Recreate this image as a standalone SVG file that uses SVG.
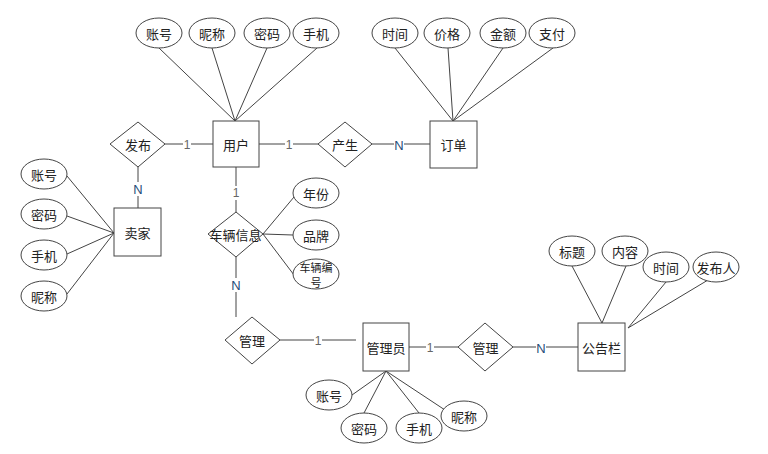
<svg xmlns="http://www.w3.org/2000/svg" width="768" height="454" viewBox="0 0 768 454">
<defs>
<style>
.shape{fill:#fff;stroke:#444;stroke-width:1}
.line{stroke:#444;stroke-width:1;fill:none}
text{font-family:"Noto Sans CJK SC","Liberation Sans",sans-serif;font-size:13px;fill:#222;text-anchor:middle;dominant-baseline:central}
.small{font-size:11px}
.one{font-family:"Liberation Sans",sans-serif;font-size:12px;fill:#666}
.n{font-family:"Liberation Sans",sans-serif;font-size:13px;fill:#1f4e79}
.bg{fill:#fff}
</style>
</defs>
<rect width="768" height="454" fill="#fff"/>
<g id="connectors">
<path class="line" d="M159,48 L235,121 M212,48 L235,121 M267,48 L235,121 M317,48 L235,121"/>
<path class="line" d="M395,48 L453,121 M448,48 L453,121 M503,48 L453,121 M553,48 L453,121"/>
<path class="line" d="M67,176 L114,233 M67,216 L114,233 M67,254 L114,233 M67,294 L114,233"/>
<path class="line" d="M263,234 L294,197 M263,234 L293,235 M263,234 L294,275"/>
<path class="line" d="M386,371 L352,395 M386,371 L364,413 M386,371 L419,413 M386,371 L445,410"/>
<path class="line" d="M572,266 L602,323 M626,266 L602,323 M666,282 L628,328 M708,280 L628,328"/>
<path class="line" d="M165,144 L213,144 M259,144 L318,144 M372,144 L430,144 M138,167 L138,208 M236,167 L236,212 M236,257 L236,317 M280,340 L356,340 M409,347 L458,347 M513,347 L578,347"/>
<rect class="bg" x="183" y="137" width="8" height="14"/><text class="one" x="187" y="145">1</text>
<rect class="bg" x="285" y="137" width="8" height="14"/><text class="one" x="289" y="145">1</text>
<rect class="bg" x="394" y="137" width="10" height="14"/><text class="n" x="399" y="145">N</text>
<rect class="bg" x="132" y="182" width="12" height="14"/><text class="n" x="138" y="189">N</text>
<rect class="bg" x="231" y="186" width="10" height="14"/><text class="one" x="236" y="193">1</text>
<rect class="bg" x="230" y="278" width="12" height="14"/><text class="n" x="236" y="285">N</text>
<rect class="bg" x="314" y="333" width="8" height="14"/><text class="one" x="318" y="341">1</text>
<rect class="bg" x="426" y="340" width="8" height="14"/><text class="one" x="430" y="348">1</text>
<rect class="bg" x="536" y="340" width="10" height="14"/><text class="n" x="541" y="348">N</text>
</g>
<g id="user"><rect class="shape" x="213" y="121" width="46" height="46"/><text x="236" y="144">用户</text></g>
<g id="order"><rect class="shape" x="430" y="121" width="47" height="47"/><text x="453.5" y="144.5">订单</text></g>
<g id="seller"><rect class="shape" x="114" y="208" width="47" height="48"/><text x="137.5" y="232">卖家</text></g>
<g id="admin"><rect class="shape" x="363" y="323" width="46" height="48"/><text x="386" y="347">管理员</text></g>
<g id="notice"><rect class="shape" x="578" y="323" width="47" height="48"/><text x="601.5" y="347">公告栏</text></g>
<g id="publish"><polygon class="shape" points="110,144 138,122 165,144 138,167"/><text x="138" y="144">发布</text></g>
<g id="produce"><polygon class="shape" points="318,144 345,122 372,144 345,167"/><text x="345" y="144">产生</text></g>
<g id="vehicle"><polygon class="shape" points="208,234 236,212 263,234 236,257"/><text x="235.5" y="234">车辆信息</text></g>
<g id="manage1"><polygon class="shape" points="225,340 252,317 280,340 252,364"/><text x="252" y="340">管理</text></g>
<g id="manage2"><polygon class="shape" points="458,347 485,323 513,347 485,371"/><text x="485.5" y="347">管理</text></g>
<g id="user-account"><ellipse class="shape" cx="159" cy="33" rx="23" ry="15"/><text x="159" y="33">账号</text></g>
<g id="user-nick"><ellipse class="shape" cx="212" cy="33" rx="23" ry="15"/><text x="212" y="33">昵称</text></g>
<g id="user-pwd"><ellipse class="shape" cx="267" cy="33" rx="23" ry="15"/><text x="267" y="33">密码</text></g>
<g id="user-phone"><ellipse class="shape" cx="316" cy="33" rx="23" ry="15"/><text x="316" y="33">手机</text></g>
<g id="order-time"><ellipse class="shape" cx="395" cy="33" rx="23" ry="15"/><text x="395" y="33">时间</text></g>
<g id="order-price"><ellipse class="shape" cx="447" cy="33" rx="23" ry="15"/><text x="447" y="33">价格</text></g>
<g id="order-amount"><ellipse class="shape" cx="503" cy="33" rx="23" ry="15"/><text x="503" y="33">金额</text></g>
<g id="order-pay"><ellipse class="shape" cx="552" cy="33" rx="23" ry="15"/><text x="552" y="33">支付</text></g>
<g id="seller-account"><ellipse class="shape" cx="44" cy="174" rx="23" ry="15"/><text x="44" y="174">账号</text></g>
<g id="seller-pwd"><ellipse class="shape" cx="44" cy="214" rx="23" ry="15"/><text x="44" y="214">密码</text></g>
<g id="seller-phone"><ellipse class="shape" cx="44" cy="255" rx="23" ry="15"/><text x="44" y="255">手机</text></g>
<g id="seller-nick"><ellipse class="shape" cx="44" cy="296" rx="23" ry="15"/><text x="44" y="296">昵称</text></g>
<g id="vehicle-year"><ellipse class="shape" cx="316" cy="193" rx="23" ry="15"/><text x="316" y="193">年份</text></g>
<g id="vehicle-brand"><ellipse class="shape" cx="316" cy="235" rx="23" ry="15"/><text x="316" y="235">品牌</text></g>
<g id="vehicle-no"><ellipse class="shape" cx="316" cy="274" rx="23" ry="15"/><text class="small" x="316" y="266.5">车辆编</text><text class="small" x="316" y="281.5">号</text></g>
<g id="admin-account"><ellipse class="shape" cx="329" cy="395" rx="23" ry="15"/><text x="329" y="395">账号</text></g>
<g id="admin-pwd"><ellipse class="shape" cx="364" cy="428" rx="23" ry="15"/><text x="364" y="428">密码</text></g>
<g id="admin-phone"><ellipse class="shape" cx="419" cy="428" rx="23" ry="15"/><text x="419" y="428">手机</text></g>
<g id="admin-nick"><ellipse class="shape" cx="464" cy="416" rx="23" ry="15"/><text x="464" y="416">昵称</text></g>
<g id="notice-title"><ellipse class="shape" cx="572" cy="251" rx="23" ry="15"/><text x="572" y="251">标题</text></g>
<g id="notice-content"><ellipse class="shape" cx="625" cy="251" rx="23" ry="15"/><text x="625" y="251">内容</text></g>
<g id="notice-time"><ellipse class="shape" cx="666" cy="267" rx="23" ry="15"/><text x="666" y="267">时间</text></g>
<g id="notice-publisher"><ellipse class="shape" cx="716" cy="267" rx="23" ry="15"/><text x="716" y="267">发布人</text></g>
</svg>
